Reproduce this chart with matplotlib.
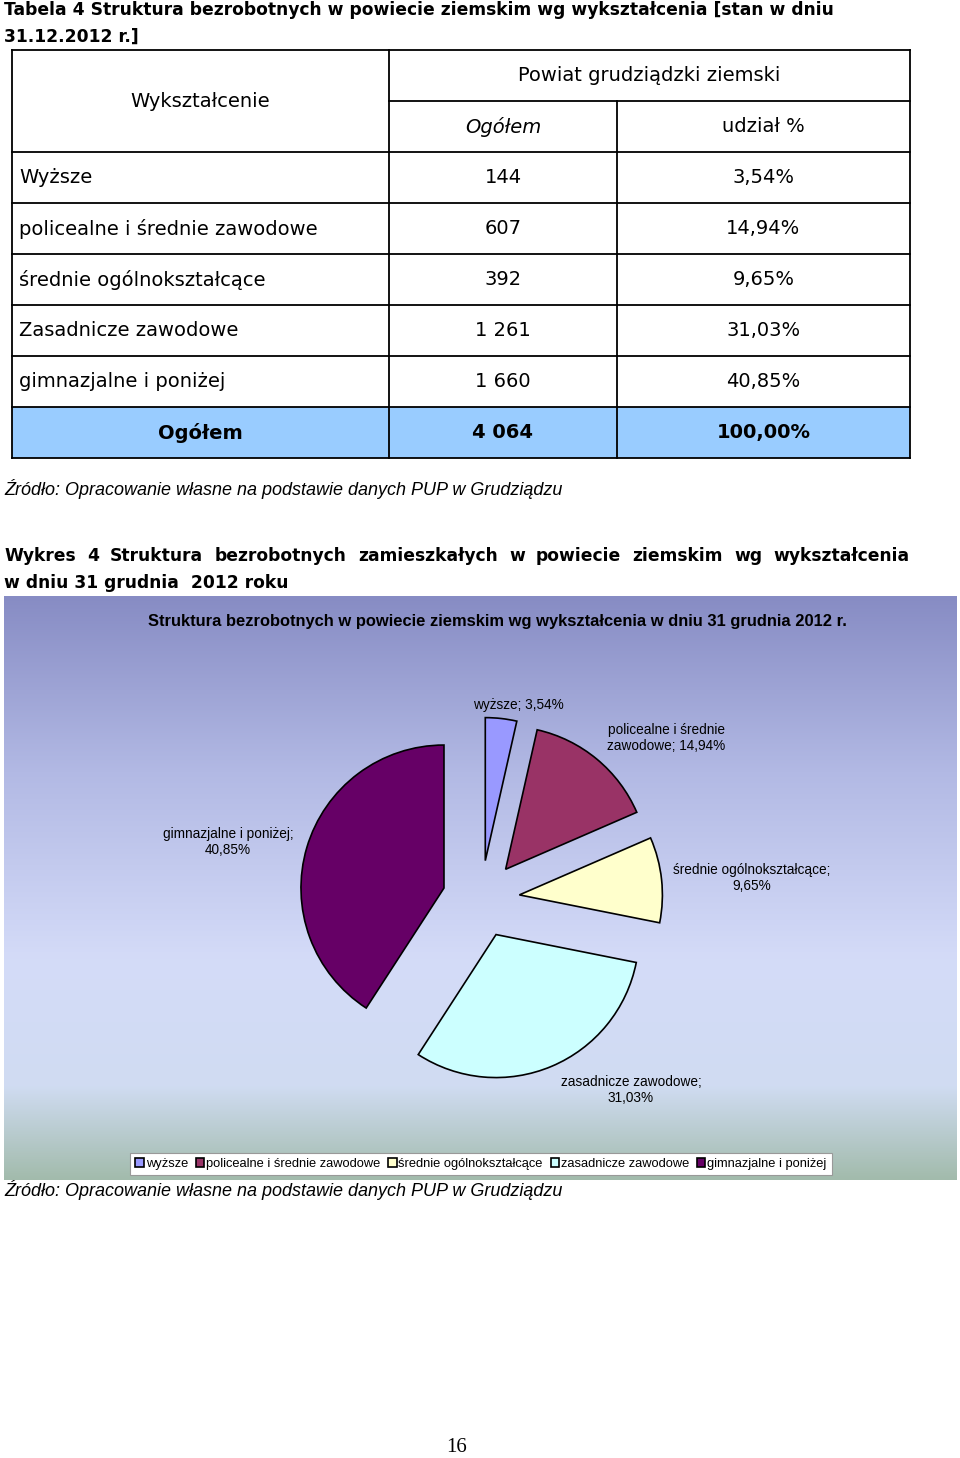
import textwrap
import numpy as np
import matplotlib
matplotlib.use("Agg")
import matplotlib.pyplot as plt
from matplotlib.patches import Rectangle
from matplotlib.colors import LinearSegmentedColormap

W, H = 960, 1458

# --- dane ---
table_labels = ["Wyższe", "policealne i średnie zawodowe", "średnie ogólnokształcące",
                "Zasadnicze zawodowe", "gimnazjalne i poniżej"]
pie_labels = ["wyższe", "policealne i średnie zawodowe", "średnie ogólnokształcące",
              "zasadnicze zawodowe", "gimnazjalne i poniżej"]
counts = [144, 607, 392, 1261, 1660]
shares = [3.54, 14.94, 9.65, 31.03, 40.85]
total_count = 4064
total_share = 100.00
pie_colors = ["#9999ff", "#993366", "#ffffcc", "#ccffff", "#660066"]

SRC = "Źródło: Opracowanie własne na podstawie danych PUP w Grudziądzu"
TABLE_FONT = "DejaVu Sans"
CHART_FONT = "Liberation Sans"


def fmt_int(v):
    return f"{v:,}".replace(",", " ")


def fmt_pct(v):
    return f"{v:.2f}%".replace(".", ",")


fig = plt.figure(figsize=(W / 100, H / 100), dpi=100)
page = fig.add_axes([0, 0, 1, 1])
page.axis("off")


def justify(words, x0, x1, y, **kw):
    r = fig.canvas.get_renderer()
    texts = [page.text(0, y, w, va="center", **kw) for w in words]
    widths = [t.get_window_extent(r).width for t in texts]
    gap = (x1 - x0 - sum(widths)) / (len(words) - 1)
    x = x0
    for t, w in zip(texts, widths):
        t.set_x(x)
        x += w + gap


# --- tabela ---
page.set_xlim(0, W)
page.set_ylim(H, 0)
tkw = dict(family=TABLE_FONT, fontsize=14, va="center")
hkw = dict(family=TABLE_FONT, fontsize=12.3, fontweight="bold", va="center")
page.text(4, 10, "Tabela 4 Struktura bezrobotnych w powiecie ziemskim wg wykształcenia [stan w dniu", **hkw)
page.text(4, 37, "31.12.2012 r.]", **hkw)

col_x = [12, 389, 617, 910]
top, row_h = 50, 51
n_rows = 2 + len(counts) + 1
bottom = top + n_rows * row_h
page.add_patch(Rectangle((col_x[0], bottom - row_h), col_x[-1] - col_x[0], row_h,
                         fc="#99ccff", ec="none", zorder=1))
lw = 1.3
for i in range(n_rows + 1):
    y = top + i * row_h
    x_start = col_x[1] if i == 1 else col_x[0]
    page.plot([x_start, col_x[-1]], [y, y], color="black", lw=lw, zorder=2)
for j, x in enumerate(col_x):
    y_start = top + row_h if j == 2 else top
    page.plot([x, x], [y_start, bottom], color="black", lw=lw, zorder=2)

c1 = (col_x[0] + col_x[1]) / 2
c2 = (col_x[1] + col_x[2]) / 2
c3 = (col_x[2] + col_x[3]) / 2
page.text(c1, top + row_h, "Wykształcenie", ha="center", **tkw)
page.text((col_x[1] + col_x[3]) / 2, top + row_h / 2, "Powiat grudziądzki ziemski", ha="center", **tkw)
page.text(c2, top + 1.5 * row_h, "Ogółem", ha="center", style="italic", **tkw)
page.text(c3, top + 1.5 * row_h, "udział %", ha="center", **tkw)
for i, (lab, n, s) in enumerate(zip(table_labels, counts, shares)):
    y = top + (2.5 + i) * row_h
    page.text(19, y, lab, ha="left", **tkw)
    page.text(c2, y, fmt_int(n), ha="center", **tkw)
    page.text(c3, y, fmt_pct(s), ha="center", **tkw)
yt = bottom - row_h / 2
page.text(c1, yt, "Ogółem", ha="center", fontweight="bold", **tkw)
page.text(c2, yt, fmt_int(total_count), ha="center", fontweight="bold", **tkw)
page.text(c3, yt, fmt_pct(total_share), ha="center", fontweight="bold", **tkw)

page.text(4, 489, SRC, family=CHART_FONT, fontsize=13, style="italic", va="center")

# --- podpis wykresu ---
justify("Wykres 4 Struktura bezrobotnych zamieszkałych w powiecie ziemskim wg wykształcenia".split(),
        4, 910, 556, **{k: v for k, v in hkw.items() if k != "va"})
page.text(4, 583, "w dniu 31 grudnia  2012 roku", **hkw)

# --- tło wykresu ---
stops = [(0.0, "#878cc4"), (0.3, "#b2b9e4"), (0.62, "#d4dbf8"), (0.84, "#d0dcf2"), (1.0, "#a2bbac")]
cmap = LinearSegmentedColormap.from_list("bg", stops)
grad = np.linspace(0, 1, 256).reshape(-1, 1)
page.imshow(grad, cmap=cmap, extent=(4, 957, 1180, 596), aspect="auto", zorder=0)
page.set_xlim(0, W)
page.set_ylim(H, 0)

page.text(497, 621, "Struktura bezrobotnych w powiecie ziemskim wg wykształcenia w dniu 31 grudnia 2012 r.",
          family=CHART_FONT, fontsize=11.9, fontweight="bold", ha="center", va="center")

# --- wykres kołowy ---
cx, cy, r_px, half = 481, 899, 143, 320
pie_ax = fig.add_axes([(cx - half) / W, (H - cy - half) / H, 2 * half / W, 2 * half / H])
wedges, _ = pie_ax.pie(shares, colors=pie_colors, startangle=90, counterclock=False,
                       explode=[0.27] * len(shares),
                       wedgeprops=dict(edgecolor="black", linewidth=1.2))
lim = half / r_px
pie_ax.set_xlim(-lim, lim)
pie_ax.set_ylim(-lim, lim)
pie_ax.set_aspect("equal")
pie_ax.axis("off")

label_xy = [(518, 705), (666, 738), (752, 878), (631, 1090), (228, 842)]
for (lx, ly), name, v in zip(label_xy, pie_labels, shares):
    txt = "\n".join(textwrap.wrap(f"{name}; {fmt_pct(v)}", 25))
    page.text(lx, ly, txt, family=CHART_FONT, fontsize=9.8, ha="center", va="center",
              linespacing=1.1, zorder=5)

leg = fig.legend(wedges, pie_labels, loc="center", bbox_to_anchor=(481 / W, 1 - 1164 / H),
                 ncol=5, prop=dict(family=CHART_FONT, size=9.3), frameon=True, fancybox=False,
                 handlelength=0.65, handleheight=0.65, handletextpad=0.15, columnspacing=0.6,
                 borderpad=0.4, borderaxespad=0)
leg.get_frame().set_edgecolor("#999999")
leg.get_frame().set_linewidth(0.8)
leg.get_frame().set_alpha(1)

page.text(4, 1190, SRC, family=CHART_FONT, fontsize=13, style="italic", va="center")
page.text(457, 1448, "16", family="Liberation Serif", fontsize=15, ha="center", va="center")

fig.savefig("out.png", dpi=100)
